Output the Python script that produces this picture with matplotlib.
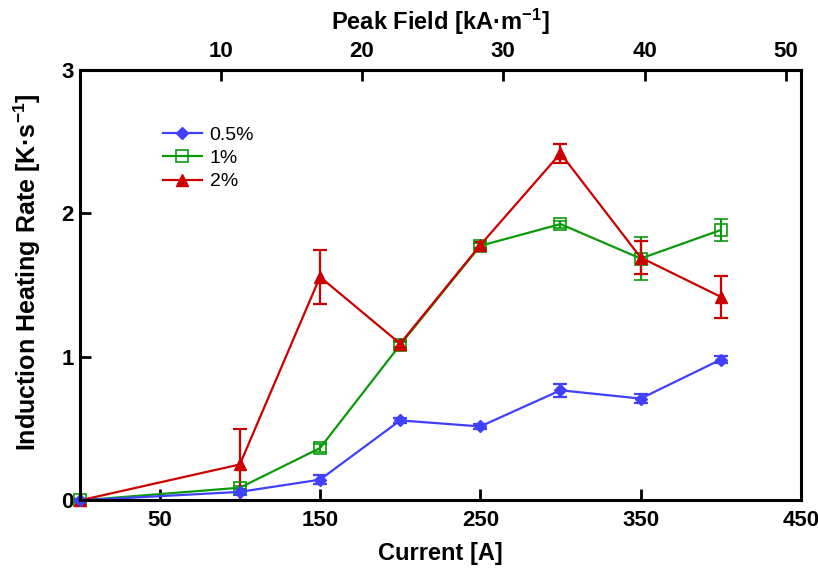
import numpy as np
import matplotlib
matplotlib.use("Agg")
import matplotlib.pyplot as plt
from matplotlib.lines import Line2D

plt.rcParams["font.family"] = ["Liberation Sans", "DejaVu Sans"]
plt.rcParams["mathtext.fontset"] = "custom"
plt.rcParams["mathtext.bf"] = "Liberation Sans:bold"
plt.rcParams["mathtext.rm"] = "Liberation Sans:bold"
plt.rcParams["mathtext.default"] = "bf"

# current [A]
current = [0, 100, 150, 200, 250, 300, 350, 400]

# heating rate [K/s] and error bars
rate_05 = [0.0, 0.06, 0.145, 0.558, 0.516, 0.768, 0.71, 0.982]
err_05 = [0.01, 0.02, 0.03, 0.02, 0.015, 0.045, 0.03, 0.025]

rate_1 = [0.0, 0.089, 0.365, 1.085, 1.775, 1.926, 1.686, 1.885]
err_1 = [0.01, 0.01, 0.03, 0.02, 0.02, 0.025, 0.15, 0.075]

rate_2 = [0.0, 0.251, 1.558, 1.093, 1.78, 2.419, 1.693, 1.419]
err_2 = [0.01, 0.25, 0.19, 0.02, 0.02, 0.065, 0.115, 0.145]

labels = ["0.5%", "1%", "2%"]

# peak field per amp [kA/m / A]
field_per_amp = 0.1135

blue = "#4040ff"
green = "#0a9a0a"
red = "#cc0000"

fig = plt.figure(figsize=(8.18, 5.75), dpi=100)
ax = fig.add_axes([0.0972, 0.1296, 0.882, 0.7487])

common = dict(capsize=5, elinewidth=1.6, capthick=1.6, lw=1.6, clip_on=False)

ax.errorbar(current, rate_1, yerr=err_1, color=green, marker="s", ms=9,
            mfc="none", mew=1.2, **common)
ax.errorbar(current, rate_2, yerr=err_2, color=red, marker="^", ms=9, **common)
ax.errorbar(current, rate_05, yerr=err_05, color=blue, marker="D", ms=6.5, **common)

ax.set_xlim(0, 450)
ax.set_ylim(0, 3)
ax.set_xticks([50, 150, 250, 350, 450])
ax.set_yticks([0, 1, 2, 3])

for s in ax.spines.values():
    s.set_linewidth(2.2)
ax.tick_params(direction="in", length=8, width=2, labelsize=16, pad=7)
ax.tick_params(axis="y", pad=4)
for lab in ax.get_xticklabels() + ax.get_yticklabels():
    lab.set_fontweight("bold")

ax.set_xlabel("Current [A]", fontsize=17, fontweight="bold", labelpad=8)
ax.set_ylabel("Induction Heating Rate [K·s$^{-1}$]", fontsize=18,
              fontweight="bold")
ax.yaxis.set_label_coords(-0.05, 0.53)

top = ax.secondary_xaxis("top", functions=(lambda x: x * field_per_amp,
                                           lambda f: f / field_per_amp))
top.set_xticks([10, 20, 30, 40, 50])
top.spines["top"].set_linewidth(2.2)
top.tick_params(direction="in", length=8, width=2, labelsize=16, pad=6)
for lab in top.get_xticklabels():
    lab.set_fontweight("bold")
top.set_xlabel("Peak Field [kA·m$^{-1}$]", fontsize=17,
               fontweight="bold", labelpad=8)

handles = [
    Line2D([], [], color=blue, marker="D", ms=6.5, lw=1.6),
    Line2D([], [], color=green, marker="s", ms=9, mfc="none", mew=1.2, lw=1.6),
    Line2D([], [], color=red, marker="^", ms=9, lw=1.6),
]
ax.legend(handles, labels, loc="upper left", bbox_to_anchor=(0.105, 0.888),
          frameon=False, fontsize=14, handlelength=2.0, handletextpad=0.4,
          labelspacing=0.3, borderaxespad=0)

fig.savefig("out.png", dpi=100)
